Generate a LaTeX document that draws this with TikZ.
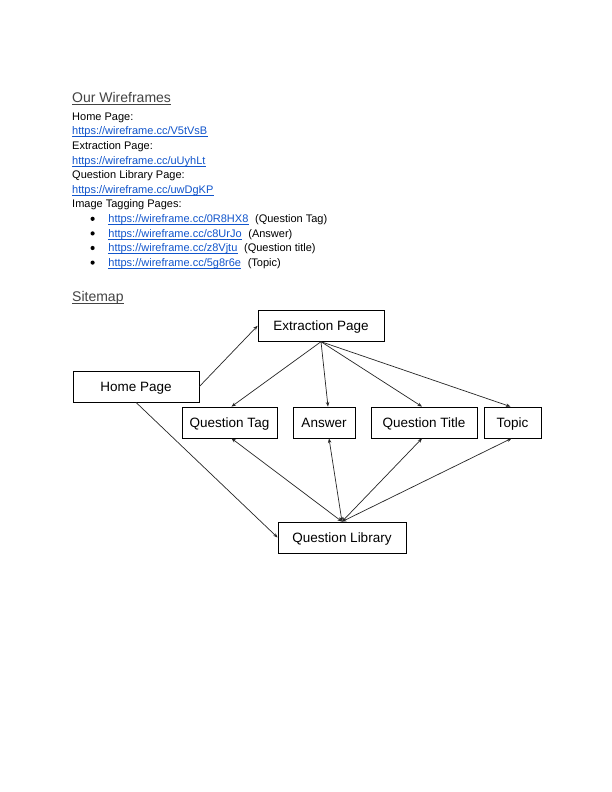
\documentclass[tikz,border=0pt]{standalone}
\usepackage{fontspec}
\setmainfont{Liberation Sans}
\usetikzlibrary{arrows.meta}
\definecolor{headgray}{HTML}{434343}
\definecolor{linkblue}{HTML}{1155CC}
\begin{document}
\begin{tikzpicture}[x=1pt,y=-1pt,
  body/.style={anchor=base west,inner sep=0pt,font=\fontsize{11}{13}\selectfont},
  heading/.style={anchor=base west,inner sep=0pt,text=headgray,font=\fontsize{14}{16}\selectfont},
  lnk/.style={body,text=linkblue},
  pagebox/.style={draw=black,line width=0.8pt,minimum height=31pt,inner sep=0pt,
    text height=9.7pt,text depth=0pt,font=\fontsize{13.5}{15}\selectfont},
  conn/.style={draw=black!85,line width=0.7pt,-{Stealth[length=4.5pt,width=3.5pt]}},
  both/.style={draw=black!85,line width=0.7pt,{Stealth[length=4.5pt,width=3.5pt]}-{Stealth[length=4.5pt,width=3.5pt]}}
]
% page area
\path[fill=white] (0,0) rectangle (612,792);

% underline helper for heading and link nodes
\newcommand{\ulnode}[2]{\draw[#2,line width=0.6pt] ([yshift=-1.9pt]#1.base west) -- ([yshift=-1.9pt]#1.base east);}

% --- wireframe list ---
\node[heading] (h1) at (72,102) {Our Wireframes};
\ulnode{h1}{headgray}

\node[body] (t1) at (72,120.2) {Home Page:};
\node[lnk]  (l1) at (72,134.8) {https://wireframe.cc/V5tVsB};
\ulnode{l1}{linkblue}
\node[body] (t2) at (72,149.4) {Extraction Page:};
\node[lnk]  (l2) at (72,164.0) {https://wireframe.cc/uUyhLt};
\ulnode{l2}{linkblue}
\node[body] (t3) at (72,178.6) {Question Library Page:};
\node[lnk]  (l3) at (72,193.2) {https://wireframe.cc/uwDgKP};
\ulnode{l3}{linkblue}
\node[body] (t4) at (72,207.8) {Image Tagging Pages:};

\foreach \y/\n/\url/\note in {222.4/b1/0R8HX8/Question Tag,
                              237.0/b2/c8UrJo/Answer,
                              251.6/b3/z8Vjtu/Question title,
                              266.2/b4/5g8r6e/Topic}{
  \fill[black] (92.6,\y-3.6) circle (2.1);
  \node[lnk] (\n) at (108.2,\y) {https://wireframe.cc/\url};
  \ulnode{\n}{linkblue}
  \node[body] (\n note) at ([xshift=6.3pt]\n.base east) {(\note)};
}

% --- sitemap ---
\node[heading] (h2) at (72,301) {Sitemap};
\ulnode{h2}{headgray}

\node[pagebox,minimum width=126pt] (ext)  at (321,325.8) {Extraction Page};
\node[pagebox,minimum width=126pt] (home) at (136,386.5) {Home Page};
\node[pagebox,minimum width=95pt]  (qt)   at (229.5,422.5) {Question Tag};
\node[pagebox,minimum width=62pt]  (ans)  at (324,422.5) {Answer};
\node[pagebox,minimum width=106pt] (qti)  at (424,422.5) {Question Title};
\node[pagebox,minimum width=57pt]  (top)  at (512.5,422.5) {Topic};
\node[pagebox,minimum width=128pt] (ql)   at (342,537.5) {Question Library};

\draw[conn] (home.east) -- (ext.west);
\draw[conn] (home.south) -- (ql.west);
\draw[conn] (ext.south) -- ([xshift=2pt]qt.north);
\draw[conn] (ext.south) -- ([xshift=4pt]ans.north);
\draw[conn] (ext.south) -- ([xshift=-2pt]qti.north);
\draw[conn] (ext.south) -- ([xshift=-2pt]top.north);

\draw[both] ([xshift=2pt]qt.south) -- (ql.north);
\draw[both] ([xshift=5pt]ans.south) -- (ql.north);
\draw[both] ([xshift=-2pt]qti.south) -- (ql.north);
\draw[both] ([xshift=-1pt]top.south) -- (ql.north);
\end{tikzpicture}
\end{document}
